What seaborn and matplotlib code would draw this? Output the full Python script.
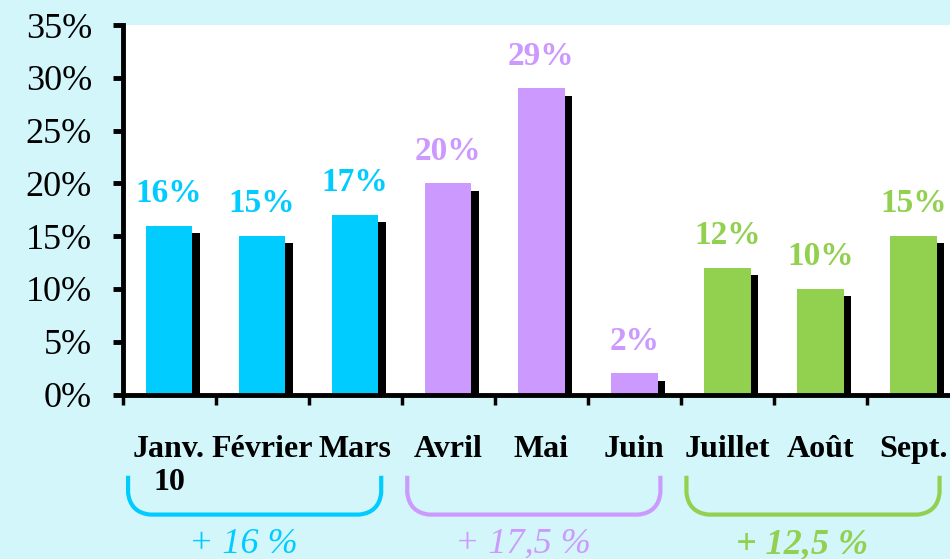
import numpy as np
import pandas as pd
import matplotlib
matplotlib.use("Agg")
import matplotlib.pyplot as plt
import seaborn as sns
from matplotlib import patheffects as pe
from matplotlib.path import Path
from matplotlib.patches import PathPatch
from matplotlib.transforms import IdentityTransform

# ---- data ----
months = ["Janv.\n10", "Février", "Mars", "Avril", "Mai", "Juin", "Juillet", "Août", "Sept."]
values = [16, 15, 17, 20, 29, 2, 12, 10, 15]
bar_colors = ["#00CCFF", "#00CCFF", "#00CCFF",
              "#CC99FF", "#CC99FF", "#CC99FF",
              "#92D050", "#92D050", "#92D050"]
yticks = [0, 5, 10, 15, 20, 25, 30, 35]
group_starts = [0, 3, 6]
group_ends = [2, 5, 8]
group_labels = ["+ 16 %", "+ 17,5 %", "+ 12,5 %"]
group_colors = ["#00CCFF", "#CC99FF", "#92D050"]
group_weights = ["normal", "normal", "bold"]

plt.rcParams['font.family'] = ['Liberation Serif', 'DejaVu Serif']

BG = "#D3F6FA"
W, H, DPI = 950, 559, 100
fig = plt.figure(figsize=(W / DPI, H / DPI), dpi=DPI, facecolor=BG)
ax = fig.add_axes([122.5 / W, 1 - 394.5 / H, 9 * 93.06 / W, (394.5 - 25) / H])
ax.set_facecolor("white")

df = pd.DataFrame({"mois": months, "val": values})
sns.barplot(data=df, x="mois", y="val", hue="mois", palette=bar_colors,
            saturation=1, width=0.5, legend=False, ax=ax, zorder=3)

for p in ax.patches:
    p.set_path_effects([pe.SimplePatchShadow(offset=(5.2, -5.2), shadow_rgbFace="black", alpha=1.0),
                        pe.Normal()])

for cont, v, c in zip(ax.containers, values, bar_colors):
    ax.bar_label(cont, labels=[f"{v}%"], padding=12, color=c, fontsize=24,
                 fontweight="bold")

ax.set_xlim(-0.5, 8.5)
ax.set_ylim(0, 35)
ax.set_yticks(yticks)
ax.set_yticklabels([f"{t}%" for t in yticks], fontsize=26)
ax.set_xticks(range(len(months)))
ax.set_xticklabels(months, fontsize=23, fontweight="bold")
ax.set_xticks(np.arange(-0.5, len(months)), minor=True)
ax.tick_params(axis="x", which="major", length=0, pad=29)
ax.tick_params(axis="x", which="minor", length=7.5, width=2.5, color="black", direction="out")
ax.tick_params(axis="y", which="major", length=7, width=3.5, color="black", pad=15)
ax.set_xlabel("")
ax.set_ylabel("")
for s in ["top", "right"]:
    ax.spines[s].set_visible(False)
for s in ["left", "bottom"]:
    ax.spines[s].set_color("black")
    ax.spines[s].set_linewidth(3.5)
    ax.spines[s].set_zorder(5)

# ---- group brackets ----
fig.canvas.draw()
r = 22
for gs, ge, lab, col, wt in zip(group_starts, group_ends, group_labels, group_colors, group_weights):
    x0 = ax.transData.transform((gs - 0.44, 0))[0]
    x1 = ax.transData.transform((ge + 0.28, 0))[0]
    ytop = ax.transAxes.transform((0, -0.22))[1]
    ybot = ax.transAxes.transform((0, -0.325))[1]
    verts = [(x0, ytop), (x0, ybot + r), (x0 + 2, ybot + 2), (x0 + r, ybot),
             (x1 - r, ybot), (x1 - 2, ybot + 2), (x1, ybot + r), (x1, ytop)]
    codes = [Path.MOVETO, Path.LINETO, Path.CURVE3, Path.CURVE3,
             Path.LINETO, Path.CURVE3, Path.CURVE3, Path.LINETO]
    fig.add_artist(PathPatch(Path(verts, codes), transform=IdentityTransform(),
                             facecolor="none", edgecolor=col, linewidth=3))
    ax.text(gs + 0.8, -0.405, lab, transform=ax.get_xaxis_transform(),
            ha="center", va="center", fontsize=26, style="italic", fontweight=wt,
            color=col, clip_on=False)

fig.savefig("out.png", dpi=DPI, facecolor=BG)
